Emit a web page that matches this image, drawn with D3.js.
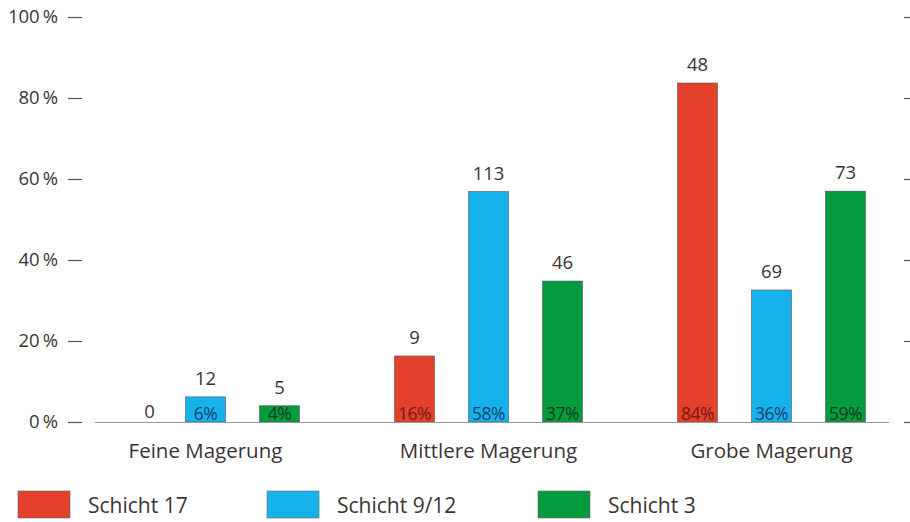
<!DOCTYPE html>
<html>
<head>
<meta charset="utf-8">
<script src="https://cdn.jsdelivr.net/npm/d3@7"></script>
<style>
  body { margin: 0; background: #fff; }
  svg text { font-family: "Open Sans", "DejaVu Sans", sans-serif; }
</style>
</head>
<body>
<svg id="chart" width="910" height="522"></svg>
<script>
// Kategorien und Serien
const groups = ["Feine Magerung", "Mittlere Magerung", "Grobe Magerung"];
const series = ["Schicht 17", "Schicht 9/12", "Schicht 3"];
const colors = ["#e4402c", "#16b2ec", "#069a3f"];
const pctColors = ["#6e1c12", "#173f6c", "#0b3f1c"];

// Anzahl (Zahl über dem Balken)
const countS17 = [0, 9, 48];
const countS912 = [12, 113, 69];
const countS3 = [5, 46, 73];

// Balkenhöhe in % (wie im Bild gezeichnet)
const heightS17 = [0, 16.3, 83.7];
const heightS912 = [6.2, 56.9, 32.6];
const heightS3 = [4.0, 34.8, 57.0];

// Prozent-Beschriftung im Balken
const pctS17 = [0, 16, 84];
const pctS912 = [6, 58, 36];
const pctS3 = [4, 37, 59];

const yTicks = [0, 20, 40, 60, 80, 100];

const counts = [countS17, countS912, countS3];
const heights = [heightS17, heightS912, heightS3];
const pcts = [pctS17, pctS912, pctS3];

const svg = d3.select("#chart");

const y = d3.scaleLinear().domain([0, 100]).range([422, 17]);

const x0 = d3.scaleBand().domain(groups).range([64, 913]);
const x1 = d3.scaleBand().domain(series)
  .range([-111, 111])
  .paddingInner(0.46)
  .paddingOuter(0.23);

// linke Achse
const yAxisL = svg.append("g")
  .attr("transform", "translate(82,0)")
  .call(d3.axisLeft(y).tickValues(yTicks).tickSize(14).tickPadding(10)
    .tickFormat(d => d + "\u2009%"));
yAxisL.select(".domain").remove();
yAxisL.selectAll(".tick line").attr("stroke", "#555").attr("stroke-width", 1.2);
yAxisL.selectAll(".tick text")
  .attr("font-size", 18.5).attr("fill", "#3a3436")
  .style("font-family", '"Open Sans", sans-serif');

// rechte Ticks
const yAxisR = svg.append("g")
  .attr("transform", "translate(904,0)")
  .call(d3.axisRight(y).tickValues(yTicks).tickSize(6).tickFormat(""));
yAxisR.select(".domain").remove();
yAxisR.selectAll(".tick line").attr("stroke", "#555").attr("stroke-width", 1.2);

// Balken-Daten
const rows = [];
groups.forEach((g, gi) => {
  series.forEach((s, si) => {
    rows.push({ g, s, si, count: counts[si][gi], h: heights[si][gi], pct: pcts[si][gi] });
  });
});

const bars = svg.append("g");

bars.selectAll("rect")
  .data(rows.filter(d => d.h > 0))
  .enter()
  .append("rect")
  .attr("x", d => x0(d.g) + x0.bandwidth() / 2 + x1(d.s))
  .attr("y", d => y(d.h))
  .attr("width", x1.bandwidth())
  .attr("height", d => y(0) - y(d.h))
  .attr("fill", d => colors[d.si])
  .attr("stroke", "#555")
  .attr("stroke-width", 0.6);

// Basislinie
svg.append("line")
  .attr("x1", 95).attr("x2", 889)
  .attr("y1", y(0) + 0.5).attr("y2", y(0) + 0.5)
  .attr("stroke", "#999").attr("stroke-width", 1.2);

// Anzahl über dem Balken
bars.selectAll(".count")
  .data(rows)
  .enter()
  .append("text")
  .attr("class", "count")
  .attr("x", d => x0(d.g) + x0.bandwidth() / 2 + x1(d.s) + x1.bandwidth() / 2 + (d.h > 0 ? 0 : 18))
  .attr("y", d => d.h > 0 ? y(d.h) - 12 : y(0) - 4)
  .attr("text-anchor", "middle")
  .attr("font-size", 18.5)
  .attr("fill", "#3a3436")
  .text(d => d.count);

// Prozent im Balken
bars.selectAll(".pct")
  .data(rows.filter(d => d.h > 0))
  .enter()
  .append("text")
  .attr("class", "pct")
  .attr("x", d => x0(d.g) + x0.bandwidth() / 2 + x1(d.s) + x1.bandwidth() / 2)
  .attr("y", y(0) - 2)
  .attr("text-anchor", "middle")
  .attr("font-size", 17.5)
  .attr("letter-spacing", -0.5)
  .attr("fill", d => pctColors[d.si])
  .text(d => d.pct + "%");

// Kategorien
svg.append("g").selectAll("text")
  .data(groups)
  .enter()
  .append("text")
  .attr("x", d => x0(d) + x0.bandwidth() / 2)
  .attr("y", 458)
  .attr("text-anchor", "middle")
  .attr("font-size", 20.5)
  .attr("fill", "#3a3436")
  .text(d => d);

// Legende
const legendX = [18, 267, 538];
const legend = svg.append("g").selectAll("g")
  .data(series)
  .enter()
  .append("g")
  .attr("transform", (d, i) => `translate(${legendX[i]},491)`);

legend.append("rect")
  .attr("width", 52).attr("height", 27)
  .attr("fill", (d, i) => colors[i])
  .attr("stroke", "#666").attr("stroke-width", 0.6);

legend.append("text")
  .attr("x", 70).attr("y", 22)
  .attr("font-size", 21)
  .attr("fill", "#3a3436")
  .text(d => d);
</script>
</body>
</html>
